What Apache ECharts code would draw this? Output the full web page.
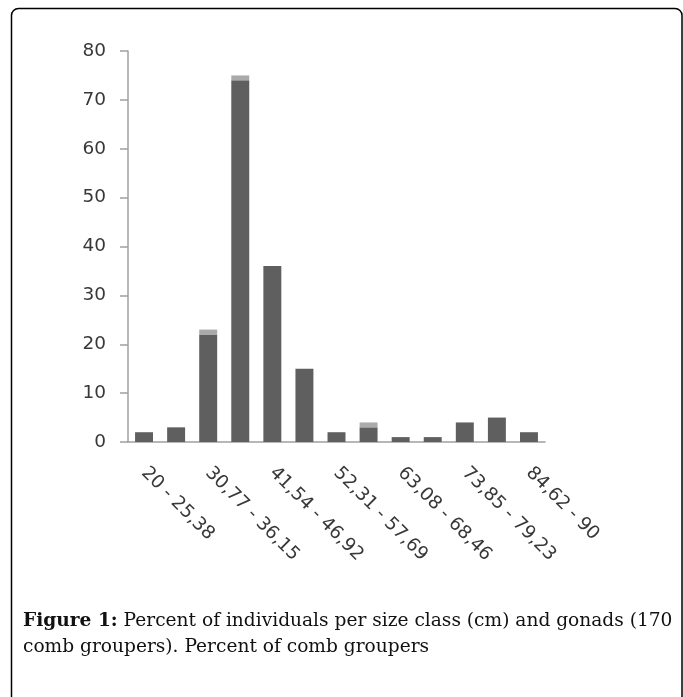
<!DOCTYPE html>
<html>
<head>
<meta charset="utf-8">
<script src="https://cdn.jsdelivr.net/npm/echarts@6/dist/echarts.min.js"></script>
<style>
html,body{margin:0;padding:0;background:#fff;}
#c{width:683px;height:697px;}
</style>
</head>
<body>
<div id="c"></div>
<script>
var categories = ["20 - 25,38", "25,38 - 30,77", "30,77 - 36,15", "36,15 - 41,54", "41,54 - 46,92", "46,92 - 52,31", "52,31 - 57,69", "57,69 - 63,08", "63,08 - 68,46", "68,46 - 73,85", "73,85 - 79,23", "79,23 - 84,62", "84,62 - 90"];
var darkValues = [2, 3, 22, 74, 36, 15, 2, 3, 1, 1, 4, 5, 2];
var lightValues = [0, 0, 1, 1, 0, 0, 0, 1, 0, 0, 0, 0, 0];
var yTicks = [0, 10, 20, 30, 40, 50, 60, 70, 80];
var captionBold = "Figure 1:";
var captionLine1 = " Percent of individuals per size class (cm) and gonads (170";
var captionLine2 = "comb groupers). Percent of comb groupers";

var chart = echarts.init(document.getElementById('c'), null, {renderer: 'canvas'});
var option = {
  animation: false,
  backgroundColor: '#ffffff',
  grid: {left: 128, right: 138, top: 51, bottom: 255, containLabel: false},
  xAxis: {
    type: 'category',
    data: categories,
    axisLine: {show: true, lineStyle: {color: '#a0a0a0', width: 1.5}},
    axisTick: {show: false},
    axisLabel: {
      interval: 1,
      rotate: -45,
      margin: 28,
      fontFamily: 'DejaVu Sans',
      fontSize: 18.5,
      color: '#383838'
    }
  },
  yAxis: {
    type: 'value',
    min: yTicks[0],
    max: yTicks[yTicks.length - 1],
    interval: yTicks[1] - yTicks[0],
    splitLine: {show: false},
    axisLine: {show: true, lineStyle: {color: '#a0a0a0', width: 1.5}},
    axisTick: {show: true, inside: false, length: 8, lineStyle: {color: '#a0a0a0', width: 1.5}},
    axisLabel: {
      margin: 22,
      fontFamily: 'DejaVu Sans',
      fontSize: 18.5,
      color: '#383838'
    }
  },
  series: [
    {
      type: 'bar',
      stack: 'total',
      data: darkValues,
      barWidth: '56%',
      itemStyle: {color: '#5f5f5f'}
    },
    {
      type: 'bar',
      stack: 'total',
      data: lightValues,
      barWidth: '56%',
      itemStyle: {color: '#aaaaaa'}
    }
  ],
  graphic: [
    {
      type: 'rect',
      shape: {x: 11.5, y: 8.5, width: 670.5, height: 720, r: 7},
      style: {fill: 'none', stroke: '#000', lineWidth: 1.5},
      silent: true
    },
    {
      type: 'text',
      left: 23,
      top: 608,
      style: {
        text: '{b|' + captionBold + '}' + captionLine1 + '\n' + captionLine2,
        fontFamily: 'DejaVu Serif',
        fontSize: 18.6,
        lineHeight: 26,
        fill: '#111',
        rich: {
          b: {fontFamily: 'DejaVu Serif', fontWeight: 'bold', fontSize: 18.6, lineHeight: 26, fill: '#111'}
        }
      }
    }
  ]
};
chart.setOption(option);
</script>
</body>
</html>
